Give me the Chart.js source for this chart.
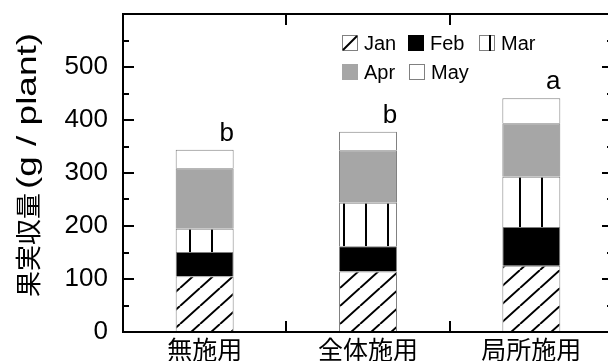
<!DOCTYPE html>
<html>
<head>
<meta charset="utf-8">
<script src="https://cdn.jsdelivr.net/npm/chart.js@4.4.1/dist/chart.umd.min.js"></script>
<style>
  html, body { margin: 0; padding: 0; background: #fff; overflow: hidden; }
  canvas { display: block; }
</style>
</head>
<body>
<canvas id="chart" width="620" height="361"></canvas>
<script>
(function () {
  'use strict';

  var categories = ['無施用', '全体施用', '局所施用'];
  var months = ['Jan', 'Feb', 'Mar', 'Apr', 'May'];
  var janYield = [105, 114, 125];
  var febYield = [46, 48, 73];
  var marYield = [44, 82, 95];
  var aprYield = [114, 99, 101];
  var mayYield = [35, 35, 47];
  var sigLetters = ['b', 'b', 'a'];
  var yTitleCjk = '果実収量';
  var yTitleLatin = '(g / plant)';

  var LATIN = '"Liberation Sans", Arial, sans-serif';
  var CJK = '"Noto Sans CJK JP", sans-serif';
  var EDGE = '#808080';

  var canvas = document.getElementById('chart');
  var ctx = canvas.getContext('2d');

  // diagonal hatch for Jan, anchored to the canvas origin
  function hatchPattern() {
    var c = document.createElement('canvas');
    c.width = 20; c.height = 18;
    var g = c.getContext('2d');
    g.fillStyle = '#fff';
    g.fillRect(0, 0, 20, 18);
    g.strokeStyle = '#000';
    g.lineWidth = 2;
    g.beginPath();
    [-20, 0, 20].forEach(function (dx) {
      g.moveTo(dx, 18);
      g.lineTo(dx + 20, 0);
    });
    g.stroke();
    return ctx.createPattern(c, 'repeat');
  }

  // vertical lines for Mar
  function stripePattern() {
    var c = document.createElement('canvas');
    c.width = 22; c.height = 10;
    var g = c.getContext('2d');
    g.fillStyle = '#fff';
    g.fillRect(0, 0, 22, 10);
    g.fillStyle = '#000';
    g.fillRect(13, 0, 2, 10);
    return ctx.createPattern(c, 'repeat');
  }

  var fills = [hatchPattern(), '#000000', stripePattern(), '#a6a6a6', '#ffffff'];
  var series = [janYield, febYield, marYield, aprYield, mayYield];

  var legendSpots = [
    { x: 342, y: 35 }, { x: 408, y: 35 }, { x: 479, y: 35 },
    { x: 342, y: 64 }, { x: 409, y: 64 }
  ];

  function drawLegendBox(c, i, x, y) {
    var s = 16;
    if (i === 1) {
      c.fillStyle = '#000';
      c.fillRect(x, y, s, s);
      return;
    }
    if (i === 3) {
      c.fillStyle = '#a6a6a6';
      c.fillRect(x, y, s, s);
      return;
    }
    c.fillStyle = '#fff';
    c.fillRect(x, y, s, s);
    c.strokeStyle = EDGE;
    c.lineWidth = 1;
    c.strokeRect(x + 0.5, y + 0.5, s - 1, s - 1);
    c.strokeStyle = '#000';
    c.lineWidth = 2;
    c.beginPath();
    if (i === 0) {
      c.moveTo(x + 1, y + s - 1);
      c.lineTo(x + s - 1, y + 1);
    } else if (i === 2) {
      c.moveTo(x + 11, y);
      c.lineTo(x + 11, y + s);
    }
    c.stroke();
  }

  var decorations = {
    id: 'decorations',
    afterDatasetsDraw: function (chart) {
      var c = chart.ctx;
      var a = chart.chartArea;
      var xs = chart.scales.x;
      var ys = chart.scales.y;
      c.save();

      // frame
      c.strokeStyle = '#000';
      c.lineWidth = 2;
      c.strokeRect(a.left, a.top, a.right - a.left, a.bottom - a.top);

      // inward y ticks on both sides, every 50
      c.beginPath();
      for (var v = 50; v < 600; v += 50) {
        var py = Math.round(ys.getPixelForValue(v));
        var len = v % 100 === 0 ? 11 : 6;
        c.moveTo(a.left, py);
        c.lineTo(a.left + len, py);
        c.moveTo(a.right - len, py);
        c.lineTo(a.right, py);
      }
      // category boundary ticks on top and bottom
      for (var k = 0; k < categories.length - 1; k++) {
        var px = Math.round(xs.getPixelForValue(k + 0.5));
        c.moveTo(px, a.top);
        c.lineTo(px, a.top + 11);
        c.moveTo(px, a.bottom - 11);
        c.lineTo(px, a.bottom);
      }
      c.stroke();

      // significance letters above each stack
      var top = chart.getDatasetMeta(months.length - 1);
      c.fillStyle = '#000';
      c.font = '26px ' + LATIN;
      c.textAlign = 'center';
      c.textBaseline = 'alphabetic';
      sigLetters.forEach(function (l, i) {
        var el = top.data[i];
        c.fillText(l, el.x + 22, el.y - 9);
      });

      // legend
      c.font = '20px ' + LATIN;
      c.textAlign = 'left';
      c.textBaseline = 'middle';
      months.forEach(function (m, i) {
        var p = legendSpots[i];
        drawLegendBox(c, i, p.x, p.y);
        c.fillStyle = '#000';
        c.fillText(m, p.x + 22, p.y + 9);
      });

      // y axis title
      c.translate(28, 297);
      c.rotate(-Math.PI / 2);
      c.textBaseline = 'middle';
      c.font = '26px ' + CJK;
      c.fillText(yTitleCjk, 0, 0);
      var w = c.measureText(yTitleCjk).width;
      c.font = '28px ' + LATIN;
      var lw = c.measureText(yTitleLatin).width;
      c.translate(w + 4, 0);
      c.scale(156 / lw, 1);
      c.fillText(yTitleLatin, 0, 0);

      c.restore();
    }
  };

  function noPad(s) {
    s.paddingTop = 0;
    s.paddingBottom = 0;
    s.paddingLeft = 0;
    s.paddingRight = 0;
  }

  new Chart(ctx, {
    type: 'bar',
    data: {
      labels: categories,
      datasets: months.map(function (m, i) {
        return {
          label: m,
          data: series[i],
          backgroundColor: fills[i],
          borderColor: EDGE,
          borderWidth: 1,
          barPercentage: 0.355,
          categoryPercentage: 1
        };
      })
    },
    options: {
      responsive: false,
      animation: false,
      events: [],
      layout: { padding: { top: 14, right: 7, left: 0, bottom: 0 } },
      plugins: { legend: { display: false }, tooltip: { enabled: false } },
      scales: {
        x: {
          stacked: true,
          grid: { display: false, drawTicks: false },
          border: { display: false },
          ticks: { color: '#000', font: { family: CJK, size: 25 }, padding: 2, maxRotation: 0 },
          afterFit: function (s) { s.height = 29; noPad(s); }
        },
        y: {
          stacked: true,
          min: 0,
          max: 600,
          grid: { display: false, drawTicks: false },
          border: { display: false },
          ticks: {
            stepSize: 100,
            color: '#000',
            font: { family: LATIN, size: 26 },
            padding: 15,
            callback: function (v) { return v < 600 ? v : ''; }
          },
          afterFit: function (s) { s.width = 123; noPad(s); }
        }
      }
    },
    plugins: [decorations]
  });
})();
</script>
</body>
</html>
